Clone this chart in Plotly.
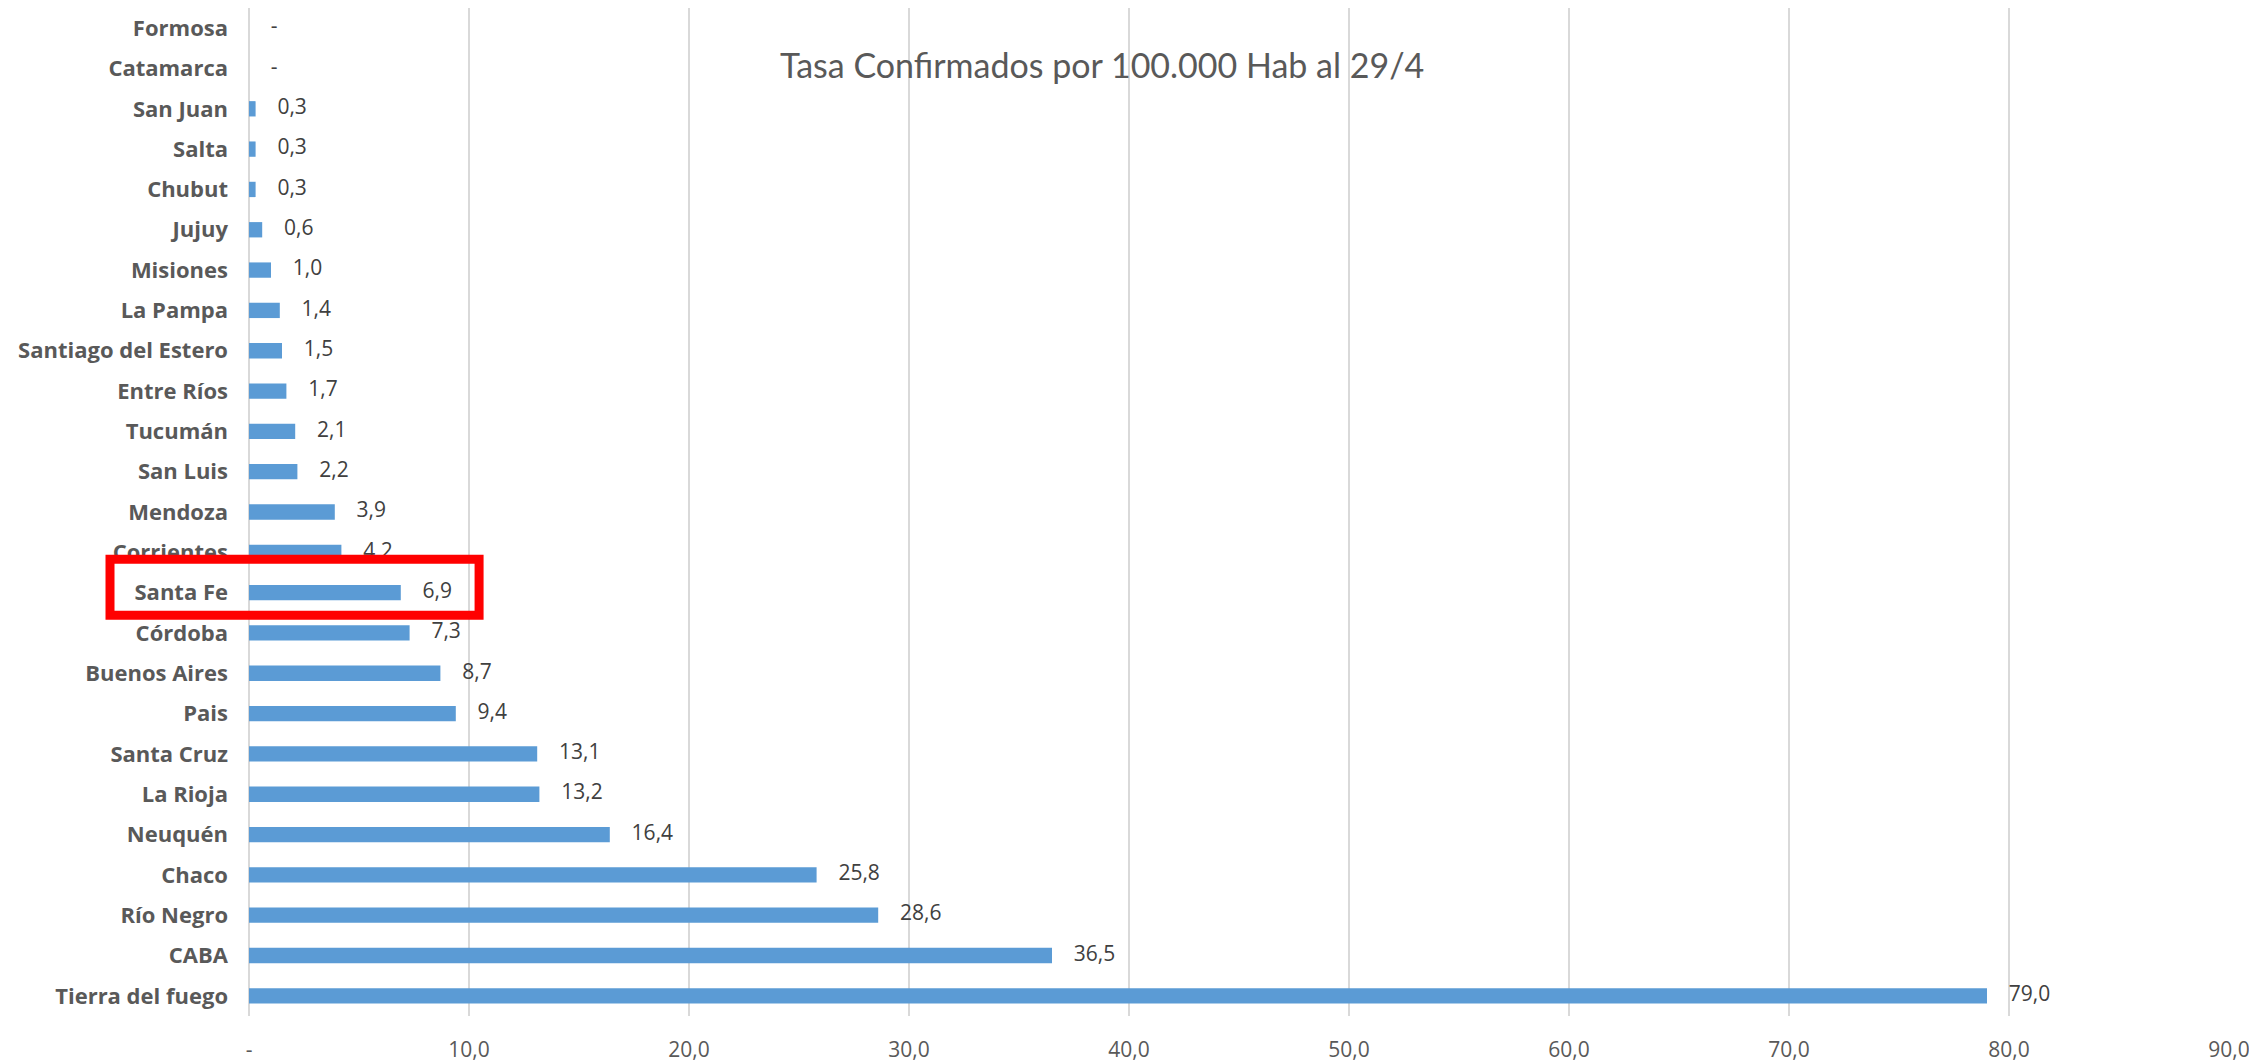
import plotly.graph_objects as go

categories = ["Tierra del fuego", "CABA", "Río Negro", "Chaco", "Neuquén", "La Rioja",
              "Santa Cruz", "Pais", "Buenos Aires", "Córdoba", "Santa Fe", "Corrientes",
              "Mendoza", "San Luis", "Tucumán", "Entre Ríos", "Santiago del Estero",
              "La Pampa", "Misiones", "Jujuy", "Chubut", "Salta", "San Juan",
              "Catamarca", "Formosa"]
values = [79.0, 36.5, 28.6, 25.8, 16.4, 13.2, 13.1, 9.4, 8.7, 7.3, 6.9, 4.2, 3.9, 2.2,
          2.1, 1.7, 1.5, 1.4, 1.0, 0.6, 0.3, 0.3, 0.3, 0.0, 0.0]
tick_vals = [0, 10, 20, 30, 40, 50, 60, 70, 80, 90]
tick_text = ["-", "10,0", "20,0", "30,0", "40,0", "50,0", "60,0", "70,0", "80,0", "90,0"]
title_text = "Tasa Confirmados por 100.000 Hab al 29/4"
highlight = "Santa Fe"


def fmt(v):
    return "-" if v == 0 else f"{v:.1f}".replace(".", ",")


labels = ["\u00a0\u00a0\u00a0\u00a0" + fmt(v) for v in values]

fig = go.Figure()
fig.add_trace(go.Bar(
    x=values, y=categories, orientation="h",
    marker=dict(color="#5B9BD5", line=dict(width=0)),
    width=0.38, hoverinfo="skip",
))
fig.add_trace(go.Scatter(
    x=values, y=categories, mode="text", text=labels,
    textposition="middle right",
    textfont=dict(family="Open Sans", size=21, color="#404040"),
    hoverinfo="skip", cliponaxis=False,
))

# page body has an 8px margin, so the figure is sized to fit the window
fig.update_layout(
    width=2249, height=1055,
    margin=dict(l=241, r=28, t=0, b=47),
    paper_bgcolor="white", plot_bgcolor="white",
    showlegend=False,
    xaxis=dict(range=[0, 90], tickvals=tick_vals, ticktext=tick_text,
               showgrid=True, gridcolor="#D9D9D9", gridwidth=2,
               zeroline=True, zerolinecolor="#D9D9D9", zerolinewidth=2,
               showline=False, ticks="", ticklabelstandoff=19,
               tickfont=dict(family="Open Sans", size=21, color="#595959")),
    yaxis=dict(categoryorder="array", categoryarray=categories,
               range=[-0.5, len(categories) - 0.5],
               showgrid=False, zeroline=False, showline=False, ticks="",
               ticklabelstandoff=20,
               tickfont=dict(family="Open Sans", size=22, color="#595959", weight="bold")),
    annotations=[dict(text=title_text, xref="paper", yref="paper",
                      x=0.431, y=0.944, xanchor="center", yanchor="middle",
                      showarrow=False,
                      font=dict(family="Lato", size=34, color="#595959"))],
)

idx = categories.index(highlight)
n = len(categories)
fig.add_shape(type="rect", xref="paper", yref="paper",
              x0=-0.0702, x1=0.1162,
              y0=(idx + 0.5 - 0.56) / n, y1=(idx + 0.5 + 0.83) / n,
              line=dict(color="#FF0000", width=9), fillcolor="rgba(0,0,0,0)",
              layer="above")

fig.write_html("out.html")
